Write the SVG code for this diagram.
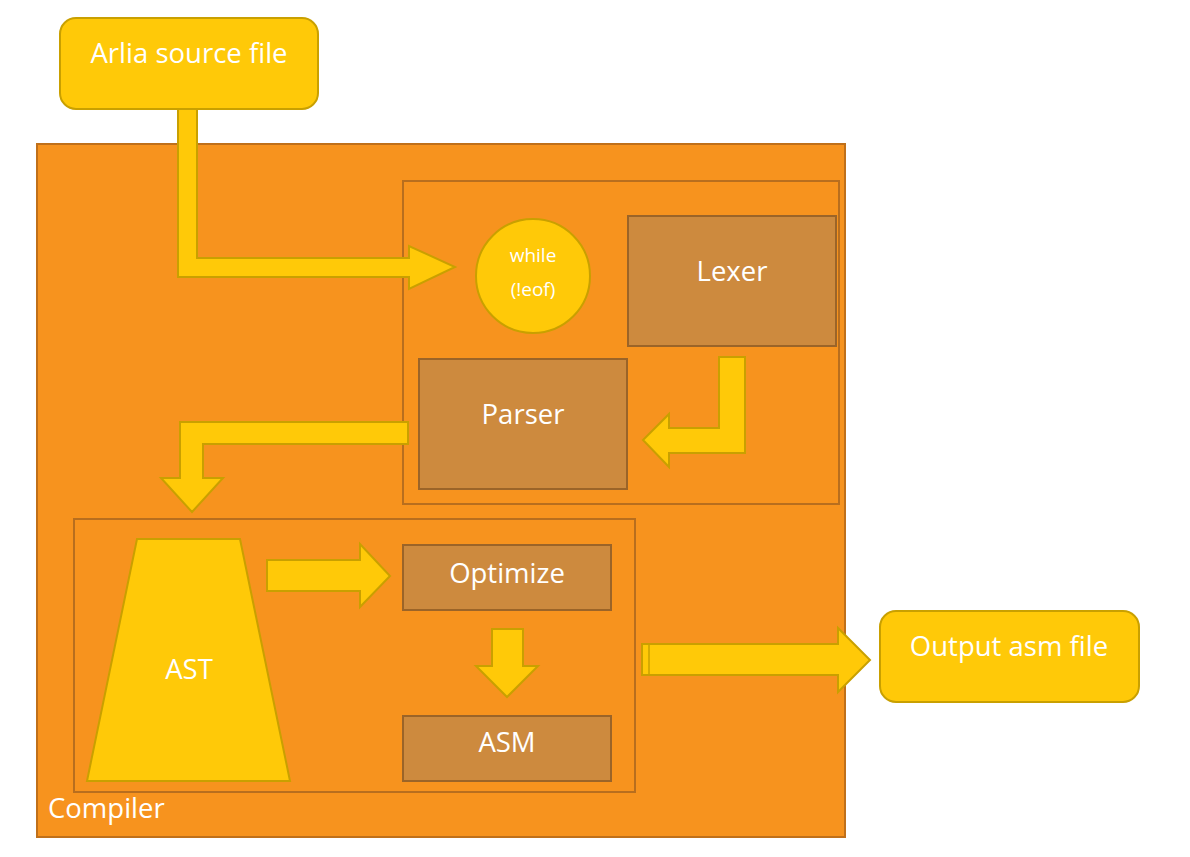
<svg xmlns="http://www.w3.org/2000/svg" width="1190" height="857" viewBox="0 0 1190 857">
<style>
.term{fill:#FFC908;stroke:#C9A000;stroke-width:2}
.proc{fill:#CD8A3E;stroke:#9B6428;stroke-width:2}
.frame{fill:none;stroke:#B86E1E;stroke-width:2}
.arrow{fill:#FFC908;stroke:#C9A000;stroke-width:2;stroke-linejoin:miter}
text{font-family:"Open Sans","Noto Sans","Liberation Sans",sans-serif;fill:#FFFFFF;text-anchor:middle}
.big{font-size:27.5px}
.small{font-size:19px}
</style>
<rect width="1190" height="857" fill="#FFFFFF"/>
<g id="compiler">
<rect x="37" y="144" width="808" height="693" fill="#F7931E" stroke="#C0701A" stroke-width="2"/>
<text class="big" x="48" y="818" style="text-anchor:start">Compiler</text>
</g>
<g id="frontend"><rect class="frame" x="403" y="181" width="436" height="323"/></g>
<g id="backend"><rect class="frame" x="74" y="519" width="561" height="273"/></g>
<g id="source">
<rect class="term" x="60" y="18" width="258" height="91" rx="16"/>
<text class="big" x="189" y="63">Arlia source file</text>
</g>
<g id="loop">
<circle class="term" cx="533" cy="276" r="57"/>
<text class="small" x="533" y="262">while</text>
<text class="small" x="533" y="296">(!eof)</text>
</g>
<g id="lexer">
<rect class="proc" x="628" y="216" width="208" height="130"/>
<text class="big" x="732" y="281">Lexer</text>
</g>
<g id="parser">
<rect class="proc" x="419" y="359" width="208" height="130"/>
<text class="big" x="523" y="424">Parser</text>
</g>
<g id="ast">
<polygon class="term" points="137,539 240,539 290,781 87,781"/>
<text class="big" x="189" y="679">AST</text>
</g>
<g id="optimize">
<rect class="proc" x="403" y="545" width="208" height="65"/>
<text class="big" x="507" y="583">Optimize</text>
</g>
<g id="asm">
<rect class="proc" x="403" y="716" width="208" height="65"/>
<text class="big" x="507" y="752">ASM</text>
</g>
<g id="output">
<rect class="term" x="880" y="611" width="259" height="91" rx="16"/>
<text class="big" x="1009" y="656">Output asm file</text>
</g>
<g id="connectors">
<path class="arrow" d="M178,109 H197 V258 H409 V246 L455,267 L409,289 V277 H178 Z"/>
<path class="arrow" d="M719,357 H745 V453 H669 V467 L643,440 L669,414 V428 H719 Z"/>
<path class="arrow" d="M408,422 V444 H203 V478 H223 L192,512 L161,478 H180 V422 Z"/>
<path class="arrow" d="M267,560 H360 V544 L390,576 L360,607 V591 H267 Z"/>
<path class="arrow" d="M492,629 H523 V666 H538 L507,697 L476,666 H492 Z"/>
<path class="arrow" d="M642,644 H838 V628 L870,660 L838,692 V675 H642 Z"/>
<line x1="649" y1="645" x2="649" y2="674" stroke="#C9A000" stroke-width="1.5"/>
</g>
</svg>
